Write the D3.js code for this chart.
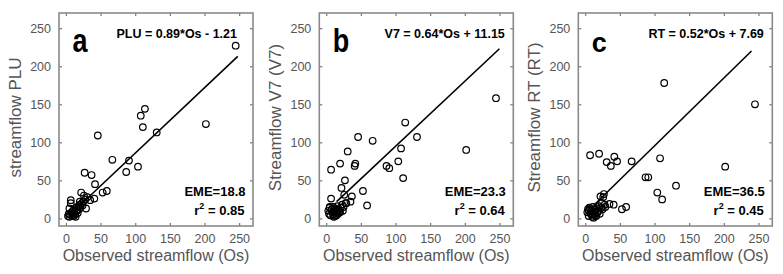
<!DOCTYPE html>
<html>
<head>
<meta charset="utf-8">
<script src="https://cdn.jsdelivr.net/npm/d3@7"></script>
<style>
  body { margin: 0; background: #fff; }
  text { font-family: "Liberation Sans", Arial, sans-serif; }
</style>
</head>
<body>
<div id="chart"></div>
<script>
// observed streamflow (Os), shared by the three panels
var observed = [245, 202, 131, 114, 111, 108, 104, 91, 87, 67, 59, 53, 46, 42, 41, 37, 35, 31, 29, 27, 26, 22, 20, 7, 7, 5,
                3, 4, 5, 6, 8, 9, 10, 10, 11, 12, 12, 13, 14, 15, 15, 16, 17, 18, 19, 20, 21, 23, 24, 25, 28];
var plu = [227, 124, 113, 144, 120, 135, 68, 76, 61, 77, 36, 34, 109, 45, 26, 57, 24, 28, 13, 60, 30, 34, 22, 24, 20, 13,
           3, 6, 2, 5, 8, 4, 10, 6, 3, 12, 8, 5, 2, 14, 9, 11, 7, 16, 12, 18, 15, 20, 17, 22, 25];
var v7 = [158, 90, 107, 126, 53, 92, 75, 66, 69, 102, 17, 36, 107, 72, 69, 29, 22, 88, 20, 50, 31, 40, 72, 64, 26, 15,
          10, 6, 14, 4, 12, 8, 5, 15, 2, 9, 13, 3, 7, 11, 4, 16, 6, 12, 9, 8, 14, 18, 10, 15, 20];
var rt = [150, 68, 43, 178, 25, 79, 34, 54, 54, 75, 15, 12, 75, 81, 18, 69, 19, 74, 15, 32, 28, 29, 85, 83, 12, 10,
          8, 12, 3, 14, 6, 10, 2, 5, 15, 9, 1, 12, 4, 7, 11, 3, 13, 8, 10, 16, 6, 14, 20, 12, 18];

var ticks = [0, 50, 100, 150, 200, 250];
var panelLetters = ["a", "b", "c"];
var yLabels = ["streamflow PLU", "Streamflow V7 (V7)", "Streamflow RT (RT)"];
var equations = ["PLU = 0.89*Os - 1.21", "V7 = 0.64*Os + 11.15", "RT = 0.52*Os + 7.69"];
var emes = ["EME=18.8", "EME=23.3", "EME=36.5"];
var r2s = ["0.85", "0.64", "0.45"];
// fitted line end points [Os, predicted]
var lineEnds = [[[20, 17], [248, 213]], [[15, 22], [250, 223]], [[12, 17], [240, 220]]];
var series = [plu, v7, rt];

var W = 783, H = 274;
var panelLeft = [59, 319.3, 578.3];
var panelTop = 13, pw = 194, ph = 213;

var svg = d3.select("#chart").append("svg")
    .attr("width", W).attr("height", H);

var x = d3.scaleLinear().domain([-10, 270]).range([0, pw]);
var y = d3.scaleLinear().domain([-10, 270]).range([ph, 0]);

series.forEach(function(vals, i) {
  var g = svg.append("g").attr("transform", "translate(" + panelLeft[i] + "," + panelTop + ")");

  // axes (ticks pointing inward)
  g.append("g").attr("transform", "translate(0," + ph + ")")
      .call(d3.axisBottom(x).tickValues(ticks).tickSizeInner(-3).tickSizeOuter(0).tickPadding(8));
  g.append("g")
      .call(d3.axisLeft(y).tickValues(ticks).tickSizeInner(-3).tickSizeOuter(0).tickPadding(8));
  g.append("g")
      .call(d3.axisTop(x).tickValues(ticks).tickSizeInner(-3).tickSizeOuter(0).tickFormat(""));
  g.append("g").attr("transform", "translate(" + pw + ",0)")
      .call(d3.axisRight(y).tickValues(ticks).tickSizeInner(-3).tickSizeOuter(0).tickFormat(""));

  g.selectAll(".domain").remove();
  g.selectAll(".tick line").attr("stroke", "#777").attr("stroke-width", 1.2);
  g.selectAll(".tick text").attr("fill", "#555").style("font-size", "12.5px")
      .style("font-family", "'Liberation Sans', Arial, sans-serif");

  g.append("rect")
      .attr("width", pw).attr("height", ph)
      .attr("fill", "none").attr("stroke", "#8a8a8a").attr("stroke-width", 1.6);

  // points
  g.selectAll("circle")
      .data(observed.map(function(o, k) { return [o, vals[k]]; }))
      .enter().append("circle")
      .attr("cx", function(d) { return x(d[0]); })
      .attr("cy", function(d) { return y(d[1]); })
      .attr("r", 3.3)
      .attr("fill", "none").attr("stroke", "#000").attr("stroke-width", 1.2);

  // fitted line
  g.append("line")
      .attr("x1", x(lineEnds[i][0][0])).attr("y1", y(lineEnds[i][0][1]))
      .attr("x2", x(lineEnds[i][1][0])).attr("y2", y(lineEnds[i][1][1]))
      .attr("stroke", "#000").attr("stroke-width", 1.6);

  // panel letter
  g.append("text")
      .attr("transform", "translate(13.5,39) scale(1," + (i < 2 ? 1.2 : 1) + ")")
      .style("font-size", "27px").style("font-weight", "bold")
      .text(panelLetters[i]);

  // equation
  g.append("text")
      .attr("x", i == 0 ? 178 : 185.5).attr("y", 24.5)
      .attr("text-anchor", "end")
      .style("font-size", "12.5px").style("font-weight", "bold")
      .text(equations[i]);

  g.append("text")
      .attr("x", 186.5).attr("y", 183)
      .attr("text-anchor", "end")
      .style("font-size", "13px").style("font-weight", "bold")
      .text(emes[i]);

  var r2 = g.append("text")
      .attr("x", 185.5).attr("y", 202)
      .attr("text-anchor", "end")
      .style("font-size", "13px").style("font-weight", "bold");
  r2.append("tspan").text("r");
  r2.append("tspan").attr("dy", -6).style("font-size", "9px").text("2");
  r2.append("tspan").attr("dy", 6).text(" = " + r2s[i]);

  // axis labels
  g.append("text")
      .attr("x", pw / 2).attr("y", 248)
      .attr("text-anchor", "middle")
      .attr("fill", "#555")
      .style("font-size", "16px")
      .text("Observed streamflow (Os)");

  g.append("text")
      .attr("transform", "translate(-38," + (ph / 2 - 2) + ") rotate(-90)")
      .attr("text-anchor", "middle")
      .attr("fill", "#555")
      .style("font-size", "17px")
      .text(yLabels[i]);
});
</script>
</body>
</html>
